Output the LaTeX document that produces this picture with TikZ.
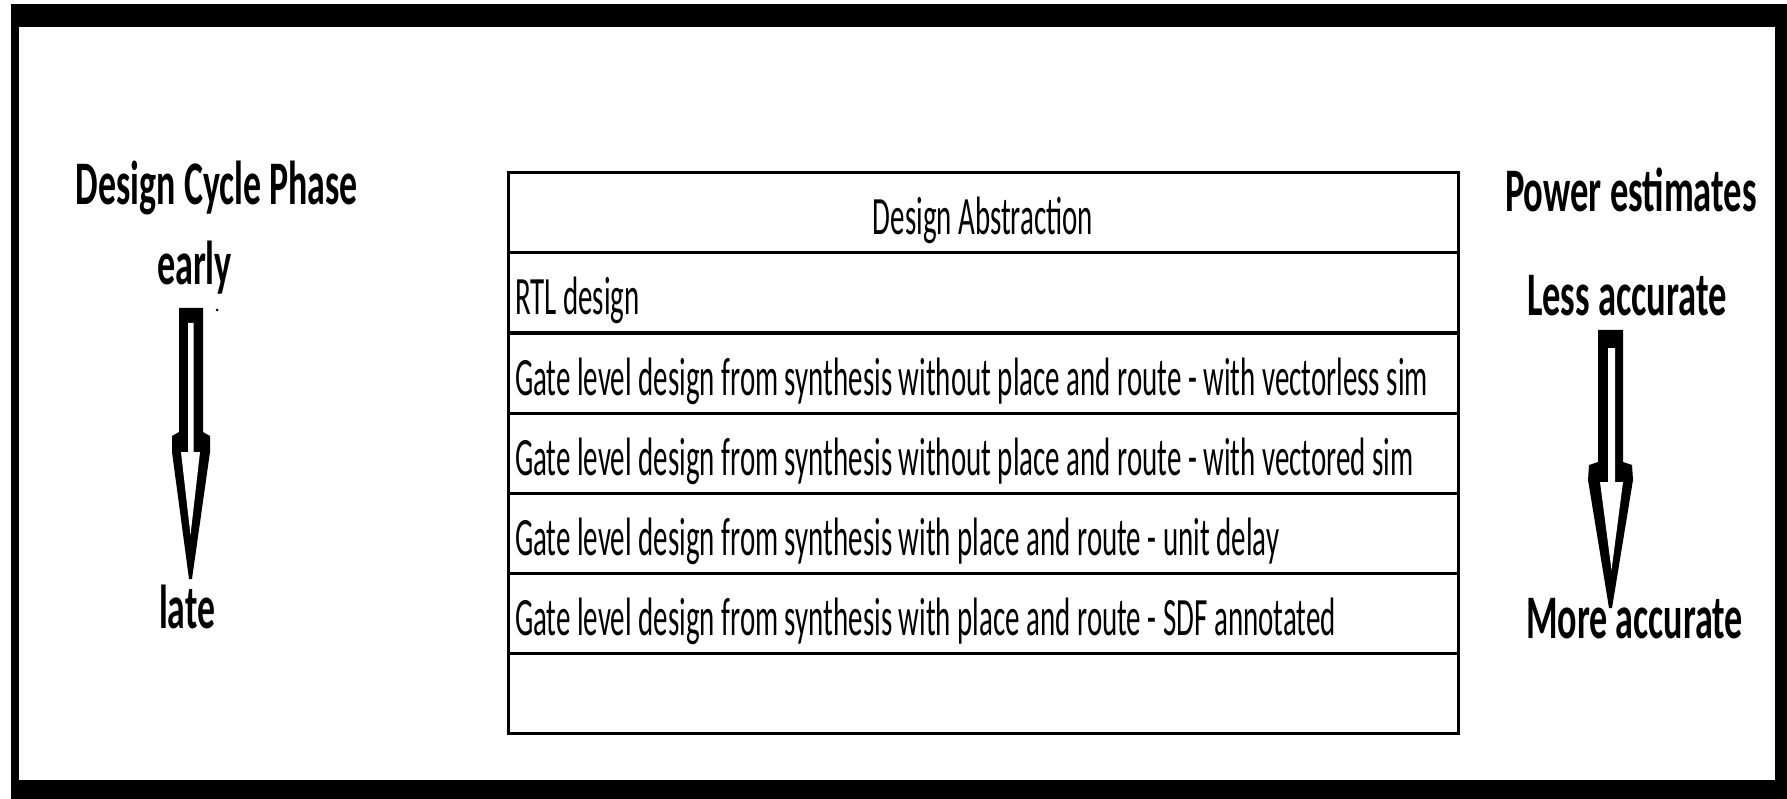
\documentclass[tikz,border=0pt]{standalone}
\usepackage{fontspec}
\usepackage{graphicx}
\newfontfamily\calr{Carlito}
\newsavebox\measbox
\newcommand\bodyfont{\calr\fontsize{54}{60}\selectfont}
\newcommand\labfont{\calr\bfseries\fontsize{62}{70}\selectfont}
\newcommand\fitw[2]{\resizebox{#1}{\height}{#2}}
\newcommand\rowtext[1]{\scalebox{\sx}[1]{\bodyfont #1}}
\AtBeginDocument{%
  \global\setbox\measbox=\hbox{\bodyfont Gate level design from synthesis without place and route - with vectorless sim}%
  \pgfmathparse{913/\the\wd\measbox}%
  \xdef\sx{\pgfmathresult}%
}
\tikzset{
  tableline/.style={line width=3pt, draw=black},
  celltext/.style={inner sep=0pt, outer sep=0pt},
  label/.style={inner sep=0pt, outer sep=0pt, anchor=base},
  arrowouter/.style={fill=black},
  arrowinner/.style={fill=white}
}
\begin{document}
\begin{tikzpicture}[x=1pt,y=-1pt]
\useasboundingbox (0,0) rectangle (1787,799);
\fill[white] (0,0) rectangle (1787,799);
% outer frame
\fill[black] (11,4) rectangle (1787,799);
\fill[white] (19,27) rectangle (1775,780);
% table
\draw[tableline] (508,173) rectangle (1458,733);
\foreach \yy in {253,333,413,493,573,653} \draw[tableline] (508,\yy) -- (1458,\yy);
\node[celltext, anchor=base] (hdr) at (983,235) {\rowtext{Design Abstraction}};
\node[celltext, anchor=base west] (r1) at (515,315) {\rowtext{RTL design}};
\node[celltext, anchor=base west] (r2) at (515,395) {\rowtext{Gate level design from synthesis without place and route - with vectorless sim}};
\node[celltext, anchor=base west] (r3) at (515,475) {\rowtext{Gate level design from synthesis without place and route - with vectored sim}};
\node[celltext, anchor=base west] (r4) at (515,555) {\rowtext{Gate level design from synthesis with place and route - unit delay}};
\node[celltext, anchor=base west] (r5) at (515,635) {\rowtext{Gate level design from synthesis with place and route - SDF annotated}};
% labels
\node[label] (dcp) at (217,205) {\fitw{282pt}{\labfont Design Cycle Phase}};
\node[label] (early) at (194.5,285) {\fitw{75pt}{\labfont early}};
\node[label] (late) at (187,628) {\fitw{56pt}{\labfont late}};
\node[label] (pe) at (1631,212) {\fitw{252pt}{\labfont Power estimates}};
\node[label] (less) at (1627,316) {\fitw{200pt}{\labfont Less accurate}};
\node[label] (more) at (1634.5,638) {\fitw{217pt}{\labfont More accurate}};
% left block arrow
\fill[arrowouter] (179,308) -- (203,308) -- (203,432) -- (210,436) -- (210,452) -- (192,579) -- (189,579) -- (172,452) -- (172,436) -- (179,432) -- cycle;
\fill[arrowinner] (188,323) -- (193.5,323) -- (193.5,452) -- (200,452) -- (190.5,535) -- (181,452) -- (188,452) -- cycle;
\fill (217,310) circle (1.5);
% right block arrow
\fill[arrowouter] (1598,330) -- (1623,330) -- (1623,462) -- (1632,465) -- (1633,480) -- (1612,608) -- (1609,608) -- (1588,480) -- (1589,465) -- (1598,462) -- cycle;
\fill[arrowinner] (1608,348) -- (1615,348) -- (1615,482) -- (1623,482) -- (1611.5,570) -- (1600,482) -- (1608,482) -- cycle;
\end{tikzpicture}
\end{document}
